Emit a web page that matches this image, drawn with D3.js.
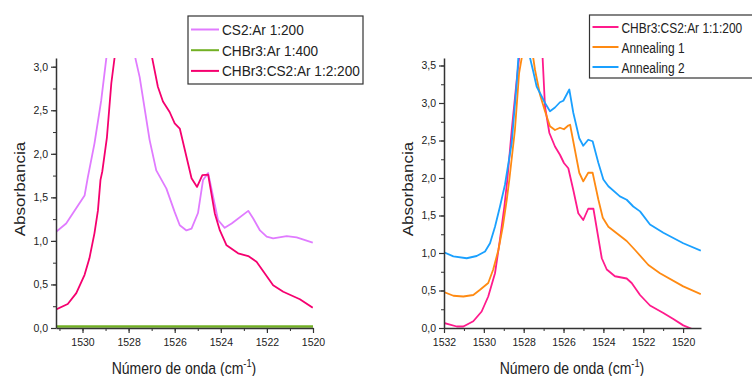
<!DOCTYPE html>
<html>
<head>
<meta charset="utf-8">
<script src="https://cdn.jsdelivr.net/npm/d3@7"></script>
<style>
  body { margin: 0; background: #fff; }
  text { font-family: "Liberation Sans", Arial, sans-serif; fill: #222; }
</style>
</head>
<body>
<div id="chart"></div>
<script>
// ---- data ----
// left panel
var cs2Wn  = [1531.17, 1530.71, 1529.91, 1529.77, 1529.48, 1529.19, 1528.97, 1528.3, 1527.70, 1527.52, 1527.09, 1526.80, 1526.36, 1526.0, 1525.78, 1525.49, 1525.27, 1524.99, 1524.77, 1524.55, 1524.12, 1523.83, 1523.53, 1522.81, 1522.60, 1522.30, 1522.01, 1521.73, 1521.14, 1520.71, 1520.01]
var cs2Abs = [1.10, 1.20, 1.52, 1.73, 2.12, 2.61, 3.09, 4.2, 3.09, 2.88, 2.16, 1.81, 1.60, 1.33, 1.18, 1.12, 1.14, 1.32, 1.70, 1.78, 1.24, 1.15, 1.20, 1.345, 1.26, 1.12, 1.05, 1.03, 1.055, 1.04, 0.98]

var chbr3Wn  = [1531.2, 1530, 1528, 1526, 1524, 1522, 1520]
var chbr3Abs = [0.018, 0.018, 0.018, 0.018, 0.018, 0.018, 0.018]

var mix2Wn  = [1531.17, 1530.64, 1530.27, 1529.91, 1529.70, 1529.48, 1529.33, 1529.22, 1529.14, 1528.94, 1528.75, 1528.61, 1528.0, 1526.97, 1526.73, 1526.51, 1526.22, 1526.0, 1525.78, 1525.27, 1525.03, 1524.80, 1524.55, 1524.26, 1524.04, 1523.75, 1523.25, 1522.81, 1522.45, 1521.73, 1521.29, 1520.57, 1520.01]
var mix2Abs = [0.21, 0.275, 0.40, 0.61, 0.80, 1.09, 1.35, 1.70, 1.80, 2.19, 2.81, 3.1, 4.6, 3.09, 2.77, 2.60, 2.48, 2.35, 2.29, 1.72, 1.62, 1.755, 1.76, 1.315, 1.12, 0.95, 0.857, 0.826, 0.76, 0.49, 0.416, 0.33, 0.233]

// right panel
var mix1Wn  = [1532, 1531.36, 1531.03, 1530.53, 1530.11, 1529.78, 1529.44, 1529.19, 1528.97, 1528.82, 1528.60, 1528.35, 1528.23, 1527.6, 1527.05, 1526.93, 1526.71, 1526.43, 1526.18, 1525.98, 1525.76, 1525.51, 1525.26, 1525.01, 1524.76, 1524.50, 1524.08, 1523.83, 1523.42, 1522.83, 1522.58, 1522.16, 1521.66, 1520.99, 1520.49, 1519.99, 1519.49]
var mix1Abs = [0.067, 0.02, 0.02, 0.09, 0.22, 0.42, 0.73, 1.18, 1.62, 1.98, 2.64, 3.31, 3.6, 5.0, 3.6, 2.95, 2.60, 2.42, 2.31, 2.2, 2.13, 1.84, 1.53, 1.44, 1.59, 1.59, 0.93, 0.78, 0.69, 0.66, 0.60, 0.44, 0.30, 0.20, 0.12, 0.035, -0.02]

var ann1Wn  = [1532, 1531.53, 1531.03, 1530.53, 1530.19, 1529.78, 1529.53, 1529.27, 1529.05, 1528.85, 1528.72, 1528.44, 1528.23, 1528.10, 1527.8, 1527.52, 1527.43, 1527.18, 1526.93, 1526.68, 1526.43, 1526.18, 1525.98, 1525.76, 1525.67, 1525.21, 1525.01, 1524.76, 1524.54, 1524.25, 1524.03, 1523.75, 1522.83, 1522.41, 1521.74, 1521.16, 1519.99, 1519.11]
var ann1Abs = [0.48, 0.43, 0.42, 0.44, 0.51, 0.60, 0.78, 1.04, 1.35, 1.71, 1.98, 2.64, 3.4, 3.6, 4.5, 3.6, 3.44, 3.11, 2.89, 2.69, 2.64, 2.67, 2.65, 2.70, 2.71, 2.07, 1.955, 2.07, 2.07, 1.71, 1.47, 1.35, 1.16, 1.04, 0.84, 0.73, 0.555, 0.45]

var ann2Wn  = [1532, 1531.53, 1530.86, 1530.36, 1529.94, 1529.69, 1529.44, 1529.19, 1528.94, 1528.60, 1528.35, 1528.27, 1528.0, 1527.68, 1527.52, 1527.35, 1527.10, 1526.93, 1526.68, 1526.43, 1526.18, 1526.01, 1525.71, 1525.51, 1525.21, 1525.01, 1524.76, 1524.54, 1524.25, 1524.00, 1523.75, 1523.17, 1522.83, 1522.50, 1522.16, 1521.66, 1520.99, 1519.99, 1519.11]
var ann2Abs = [1.01, 0.955, 0.93, 0.96, 1.02, 1.13, 1.35, 1.62, 1.91, 2.47, 3.27, 3.6, 4.3, 3.6, 3.42, 3.22, 3.09, 3.0, 2.89, 2.94, 3.01, 3.03, 3.18, 2.87, 2.53, 2.43, 2.51, 2.49, 2.2, 1.98, 1.89, 1.755, 1.71, 1.62, 1.555, 1.38, 1.27, 1.13, 1.03]

var leftXTicks  = [1530, 1528, 1526, 1524, 1522, 1520]
var rightXTicks = [1532, 1530, 1528, 1526, 1524, 1522, 1520]
var leftYTicks  = [0, 0.5, 1, 1.5, 2, 2.5, 3]
var rightYTicks = [0, 0.5, 1, 1.5, 2, 2.5, 3, 3.5]

var leftNames  = ["CS2:Ar 1:200", "CHBr3:Ar 1:400", "CHBr3:CS2:Ar 1:2:200"]
var rightNames = ["CHBr3:CS2:Ar 1:1:200", "Annealing 1", "Annealing 2"]

var svg = d3.select("#chart").append("svg")
    .attr("width", 752)
    .attr("height", 376)

var fmt = function(d) { return d3.format(".1f")(d).replace(".", ",") }

function zip(xs, ys) {
    return xs.map(function(x, i) { return {x: x, y: ys[i]} })
}

// one panel: box in px, domains, series list, legend position
function panel(p) {
    var x = d3.scaleLinear().domain(p.xDomain).range([p.left, p.right])
    var y = d3.scaleLinear().domain(p.yDomain).range([p.bottom, p.top])
    var g = svg.append("g")

    g.append("clipPath").attr("id", p.id)
      .append("rect")
        .attr("x", p.left).attr("y", p.top)
        .attr("width", p.right - p.left).attr("height", p.bottom - p.top)

    var line = d3.line()
        .x(function(d) { return x(d.x) })
        .y(function(d) { return y(d.y) })

    p.series.forEach(function(s) {
        g.append("path")
            .datum(zip(s.wn, s.abs))
            .attr("clip-path", "url(#" + p.id + ")")
            .attr("fill", "none")
            .attr("stroke", s.color)
            .attr("stroke-width", s.width || 1.8)
            .attr("stroke-linejoin", "round")
            .attr("d", line)
    })

    // x axis with minor ticks every 1 cm-1
    var xMinor = d3.range(Math.ceil(p.xDomain[1]), Math.floor(p.xDomain[0]) + 1)
    g.append("g")
        .attr("transform", "translate(0," + p.bottom + ")")
        .call(d3.axisBottom(x).tickValues(xMinor).tickSize(3).tickFormat(""))
        .call(function(a) { a.select(".domain").remove() })
        .selectAll("line").attr("stroke", "#333")
    var xa = g.append("g")
        .attr("transform", "translate(0," + p.bottom + ")")
        .call(d3.axisBottom(x).tickValues(p.xTicks).tickSize(5).tickSizeOuter(0).tickPadding(6).tickFormat(d3.format("d")))
    xa.select(".domain").attr("stroke", "#333").attr("stroke-width", 1.5)
    xa.selectAll("line").attr("stroke", "#333").attr("stroke-width", 1.2)
    xa.selectAll("text").style("font-size", "10.5px").attr("fill", "#222")

    // y axis with minor ticks every 0.25
    var yMinor = d3.range(0, p.yDomain[1], 0.25)
    g.append("g")
        .attr("transform", "translate(" + p.left + ",0)")
        .call(d3.axisLeft(y).tickValues(yMinor).tickSize(3).tickFormat(""))
        .call(function(a) { a.select(".domain").remove() })
        .selectAll("line").attr("stroke", "#333")
    var ya = g.append("g")
        .attr("transform", "translate(" + p.left + ",0)")
        .call(d3.axisLeft(y).tickValues(p.yTicks).tickSize(5).tickSizeOuter(0).tickPadding(3).tickFormat(fmt))
    ya.select(".domain").attr("stroke", "#333").attr("stroke-width", 1.5)
    ya.selectAll("line").attr("stroke", "#333").attr("stroke-width", 1.2)
    ya.selectAll("text").style("font-size", "10.5px").attr("fill", "#222")

    // axis titles (the source font is a narrow one, so squeeze horizontally)
    var xt = g.append("text")
        .attr("transform", "translate(" + p.xTitleX + ",374) scale(0.85,1)")
        .attr("text-anchor", "middle")
        .style("font-size", "16.5px")
        .text("Número de onda (cm")
    xt.append("tspan").attr("dy", -7).style("font-size", "11px").text("-1")
    xt.append("tspan").attr("dy", 7).text(")")

    g.append("text")
        .attr("transform", "translate(" + p.yTitleX + ",189) scale(0.85,1) rotate(-90)")
        .attr("text-anchor", "middle")
        .style("font-size", "17px")
        .text("Absorbancia")

    // legend
    var L = p.legend
    g.append("rect")
        .attr("x", L.x).attr("y", L.y)
        .attr("width", L.w).attr("height", L.h)
        .attr("fill", "#fff").attr("stroke", "#333").attr("stroke-width", 1.2)
    p.series.filter(function(s) { return s.name }).forEach(function(s, i) {
        var ry = L.y + L.first + i * L.step
        g.append("line")
            .attr("x1", L.x + 3).attr("x2", L.x + L.sample)
            .attr("y1", ry).attr("y2", ry)
            .attr("stroke", s.color).attr("stroke-width", 2)
        g.append("text")
            .attr("transform", "translate(" + (L.x + L.sample + 3) + "," + (ry + 5.5) + ") scale(" + L.sx + ",1)")
            .style("font-size", "15.5px")
            .text(s.name)
    })
}

panel({
    id: "clipL",
    left: 56, right: 313, top: 58, bottom: 328,
    xDomain: [1531.15, 1520], yDomain: [0, 3.1],
    xTicks: leftXTicks, yTicks: leftYTicks,
    xTitleX: 184, yTitleX: 25,
    series: [
        {wn: cs2Wn, abs: cs2Abs, color: "#e07bff", name: leftNames[0]},
        {wn: chbr3Wn, abs: chbr3Abs, color: "#72b024", name: leftNames[1], width: 2.6},
        {wn: mix2Wn, abs: mix2Abs, color: "#f5006f", name: leftNames[2]}
    ],
    legend: {x: 188, y: 16, w: 175, h: 68, first: 13.5, step: 20.7, sample: 31, sx: 0.88}
})

panel({
    id: "clipR",
    left: 444, right: 701, top: 58, bottom: 328,
    xDomain: [1532, 1519.1], yDomain: [0, 3.6],
    xTicks: rightXTicks, yTicks: rightYTicks,
    xTitleX: 572, yTitleX: 413,
    series: [
        {wn: mix1Wn, abs: mix1Abs, color: "#ff1a8c", name: rightNames[0]},
        {wn: ann1Wn, abs: ann1Abs, color: "#ff8a12", name: rightNames[1]},
        {wn: ann2Wn, abs: ann2Abs, color: "#1aa0ff", name: rightNames[2]}
    ],
    legend: {x: 589.5, y: 15, w: 170, h: 63, first: 12, step: 20, sample: 29, sx: 0.77}
})
</script>
</body>
</html>
